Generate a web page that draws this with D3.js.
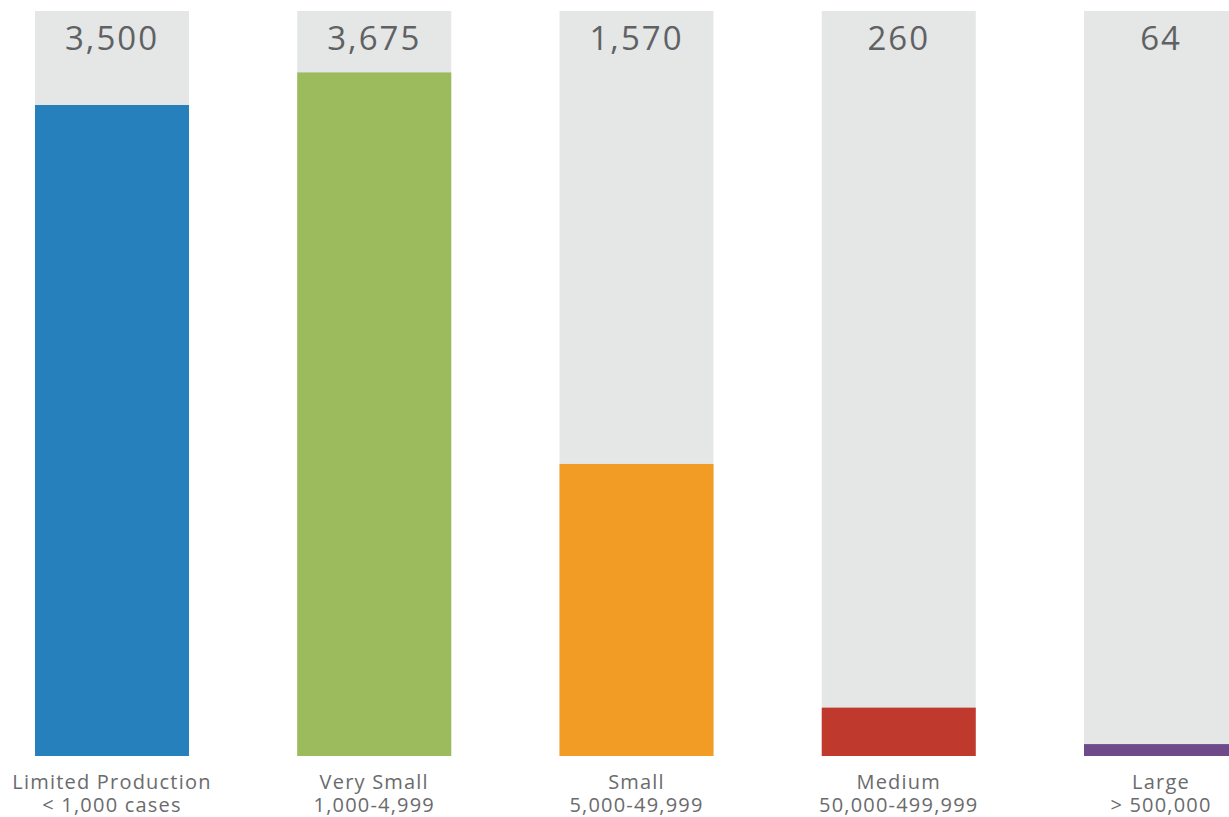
<!DOCTYPE html>
<html>
<head>
<meta charset="utf-8">
<script src="https://cdn.jsdelivr.net/npm/d3@7"></script>
<style>
  html, body { margin: 0; padding: 0; background: #ffffff; overflow: hidden; }
  svg { display: block; }
</style>
</head>
<body>
<svg id="chart" width="1229" height="817"></svg>
<script>
// ---- data ----
const categories = ["Limited Production", "Very Small", "Small", "Medium", "Large"];
const subLabels = ["< 1,000 cases", "1,000-4,999", "5,000-49,999", "50,000-499,999", "> 500,000"];
const values = [3500, 3675, 1570, 260, 64];
const valueLabels = ["3,500", "3,675", "1,570", "260", "64"];
const colors = ["#2580bb", "#9bbb5c", "#f39c25", "#c0392d", "#6e4a8a"];
const maxValue = 4000;

// ---- layout ----
const svg = d3.select("#chart");
const x = d3.scaleBand()
  .domain(categories)
  .range([35, 1238])
  .paddingInner(0.4128)
  .paddingOuter(0);
const y = d3.scaleLinear().domain([0, maxValue]).range([756, 12]);

const data = categories.map((c, i) => ({
  cat: c, sub: subLabels[i], value: values[i], label: valueLabels[i], color: colors[i]
}));

// background bars
svg.append("g").selectAll("rect")
  .data(data).join("rect")
  .attr("x", d => x(d.cat))
  .attr("width", x.bandwidth())
  .attr("y", y(maxValue) - 1)
  .attr("height", y(0) - y(maxValue) + 1)
  .attr("fill", "#e5e6e6");

// value bars
svg.append("g").selectAll("rect")
  .data(data).join("rect")
  .attr("x", d => x(d.cat))
  .attr("width", x.bandwidth())
  .attr("y", d => y(d.value))
  .attr("height", d => y(0) - y(d.value))
  .attr("fill", d => d.color);

// value labels
svg.append("g").selectAll("text")
  .data(data).join("text")
  .attr("x", d => x(d.cat) + x.bandwidth() / 2)
  .attr("y", 50)
  .attr("text-anchor", "middle")
  .attr("font-family", "'Open Sans', sans-serif")
  .attr("font-size", 33)
  .attr("font-weight", 500)
  .attr("letter-spacing", 2)
  .attr("fill", "#606163")
  .text(d => d.label);

// category labels
const lab = svg.append("g").selectAll("text")
  .data(data).join("text")
  .attr("x", d => x(d.cat) + x.bandwidth() / 2)
  .attr("y", 789)
  .attr("text-anchor", "middle")
  .attr("font-family", "'Open Sans', sans-serif")
  .attr("font-size", 20)
  .attr("font-weight", 400)
  .attr("letter-spacing", 1.2)
  .attr("fill", "#6a6b6d");
lab.append("tspan")
  .attr("x", d => x(d.cat) + x.bandwidth() / 2)
  .text(d => d.cat);
lab.append("tspan")
  .attr("x", d => x(d.cat) + x.bandwidth() / 2)
  .attr("dy", 23)
  .text(d => d.sub);
</script>
</body>
</html>
